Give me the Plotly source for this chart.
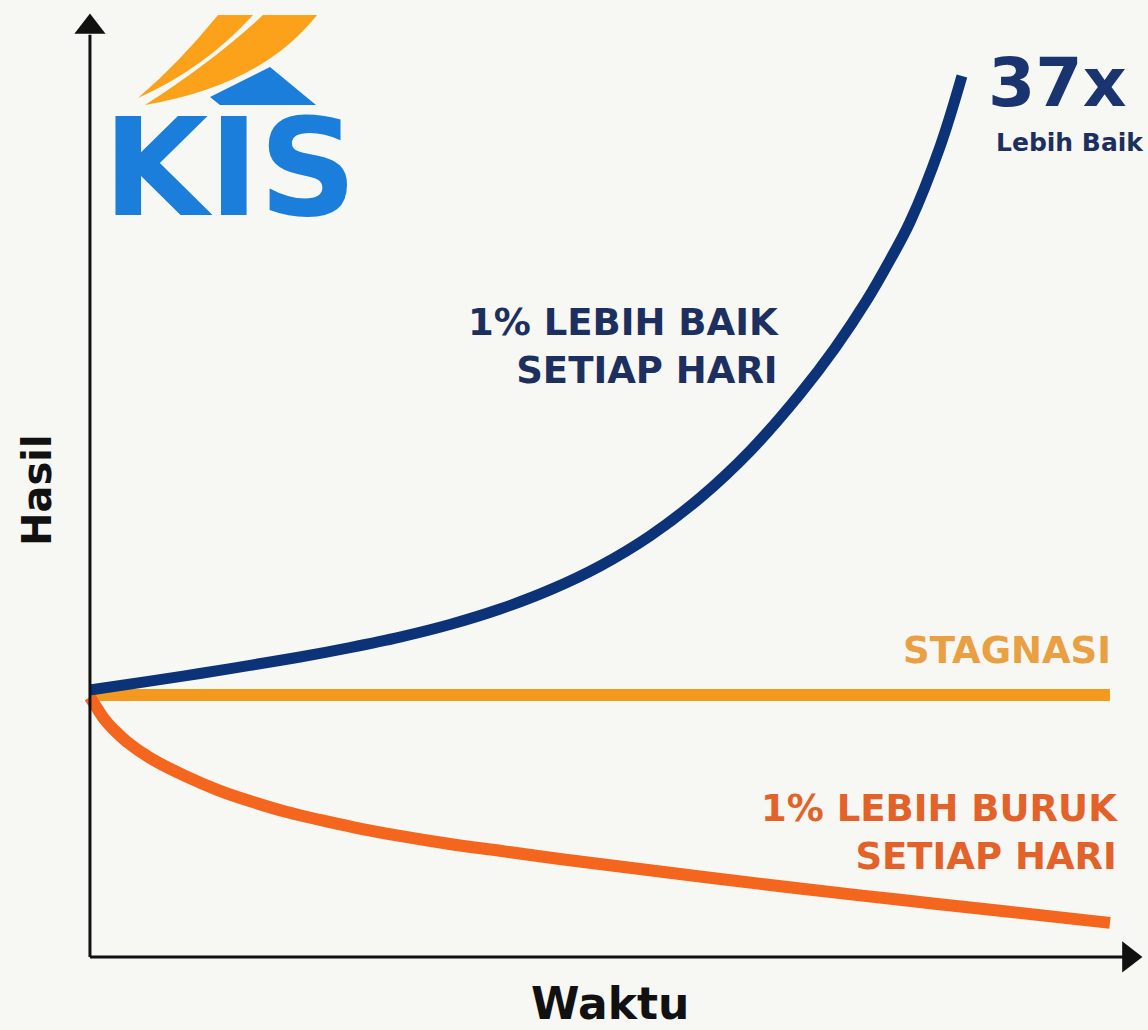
import plotly.graph_objects as go

# ---------------- data ----------------
waktu_baik = [0, 5.88, 10.78, 15.69, 20.59, 25.49, 30.39, 35.29, 40.20, 45.10, 50.0, 54.90,
              59.80, 64.71, 69.61, 73.04, 76.18, 78.43, 80.39, 83.33, 85.49]
hasil_baik = [1.019, 1.053, 1.082, 1.113, 1.145, 1.181, 1.221, 1.269, 1.328, 1.401, 1.492, 1.607,
              1.752, 1.931, 2.149, 2.324, 2.508, 2.660, 2.805, 3.092, 3.363]

waktu_stagnasi = [0, 100]
hasil_stagnasi = [1.0, 1.0]

waktu_buruk = [0, 0.686, 1.471, 2.451, 3.627, 5.882, 9.314, 12.549, 15.686, 19.314, 22.549, 25.98,
               30.39, 35.29, 40.20, 46.08, 51.96, 59.80, 69.61, 79.41, 89.22, 100]
hasil_buruk = [0.992, 0.950, 0.905, 0.863, 0.821, 0.760, 0.691, 0.637, 0.595, 0.553, 0.523, 0.494,
               0.462, 0.431, 0.405, 0.374, 0.345, 0.307, 0.261, 0.218, 0.176, 0.130]

label_baik = "1% LEBIH BAIK<br>SETIAP HARI"
label_stagnasi = "STAGNASI"
label_buruk = "1% LEBIH BURUK<br>SETIAP HARI"
label_kali = "37x"
label_kali_sub = "Lebih Baik"
judul_x = "Waktu"
judul_y = "Hasil"
logo_text = "KIS"

# ---------------- layout constants ----------------
W, H = 1148, 1030
X_RANGE = [-8.82, 103.73]
Y_RANGE = [-0.279, 3.653]
BG = "#f7f7f4"

BLUE = "#0c3378"
ORANGE = "#f4991f"
RED = "#f4661e"
BLUE_TXT = "#1c2f5e"
ORANGE_TXT = "#eaa042"
RED_TXT = "#e2622a"
LOGO_BLUE = "#1b7edb"
LOGO_ORANGE = "#fba21a"
BOLD = "DejaVu Sans"


def px(x, y):
    """pixel position -> paper coordinates"""
    return x / W, 1 - y / H


def path_px(cmds):
    out = []
    for c in cmds:
        if isinstance(c, str):
            out.append(c)
        else:
            a, b = px(*c)
            out.append(f"{a:.5f},{b:.5f}")
    return " ".join(out)


fig = go.Figure()

fig.add_trace(go.Scatter(x=waktu_stagnasi, y=hasil_stagnasi, mode="lines",
                         line=dict(color=ORANGE, width=12), hoverinfo="skip"))
fig.add_trace(go.Scatter(x=waktu_buruk, y=hasil_buruk, mode="lines",
                         line=dict(color=RED, width=12, shape="spline", smoothing=1.0), hoverinfo="skip"))
fig.add_trace(go.Scatter(x=waktu_baik, y=hasil_baik, mode="lines",
                         line=dict(color=BLUE, width=11, shape="spline", smoothing=1.0), hoverinfo="skip"))

# axis arrowheads
fig.add_trace(go.Scatter(x=[0], y=[3.55], mode="markers",
                         marker=dict(symbol="triangle-up", size=27, color="#111111", line=dict(width=0)),
                         hoverinfo="skip"))
fig.add_trace(go.Scatter(x=[101.86], y=[0], mode="markers",
                         marker=dict(symbol="triangle-right", size=27, color="#111111", line=dict(width=0)),
                         hoverinfo="skip"))

shapes = [
    dict(type="line", xref="x", yref="y", x0=0, x1=0, y0=0, y1=3.52,
         line=dict(color="#111111", width=3)),
    dict(type="line", xref="x", yref="y", x0=0, x1=101.9, y0=0, y1=0,
         line=dict(color="#111111", width=3)),
    # logo swooshes
    dict(type="path", xref="paper", yref="paper", fillcolor=LOGO_ORANGE, line=dict(width=0),
         path=path_px(["M", (218, 15), "L", (253, 15), "Q", (205, 68), (138, 98), "Q", (180, 62), (218, 15), "Z"])),
    dict(type="path", xref="paper", yref="paper", fillcolor=LOGO_ORANGE, line=dict(width=0),
         path=path_px(["M", (263, 15), "L", (317, 15), "Q", (262, 85), (145, 105), "Q", (215, 60), (263, 15), "Z"])),
    dict(type="path", xref="paper", yref="paper", fillcolor=LOGO_BLUE, line=dict(width=0),
         path=path_px(["M", (270, 67), "L", (316, 105), "L", (220, 105), "L", (210, 97), "Z"])),
]

ann = []


def add_text(text, x, y, size, color, xanchor="center", yanchor="middle", align="center",
             family=BOLD, weight="bold", textangle=0):
    a, b = px(x, y)
    ann.append(dict(text=text, x=a, y=b, xref="paper", yref="paper", showarrow=False,
                    xanchor=xanchor, yanchor=yanchor, align=align, textangle=textangle,
                    font=dict(family=family, size=size, color=color, weight=weight)))


add_text(logo_text, 230, 168, 136, LOGO_BLUE)
add_text(label_baik, 781, 347, 37, BLUE_TXT, xanchor="right", align="right")
add_text(label_stagnasi, 1113, 650, 37, ORANGE_TXT, xanchor="right", align="right")
add_text(label_buruk, 1120, 832, 37, RED_TXT, xanchor="right", align="right")
add_text(label_kali, 1057, 83, 68, "#1a3470")
add_text(label_kali_sub, 1070, 142, 25, BLUE_TXT)
add_text(judul_y, 37, 490, 40, "#111111", textangle=-90)
add_text(judul_x, 610, 1003, 44, "#111111")

fig.update_layout(
    width=W, height=H,
    margin=dict(l=0, r=0, t=0, b=0),
    paper_bgcolor=BG, plot_bgcolor=BG,
    showlegend=False,
    xaxis=dict(range=X_RANGE, visible=False, domain=[0, 1]),
    yaxis=dict(range=Y_RANGE, visible=False, domain=[0, 1]),
    shapes=shapes,
    annotations=ann,
)

fig.write_html(
    "out.html",
    config={"displayModeBar": False},
    post_script="document.body.style.margin='0';document.body.style.overflow='hidden';"
                "document.body.style.background='" + BG + "';",
)
